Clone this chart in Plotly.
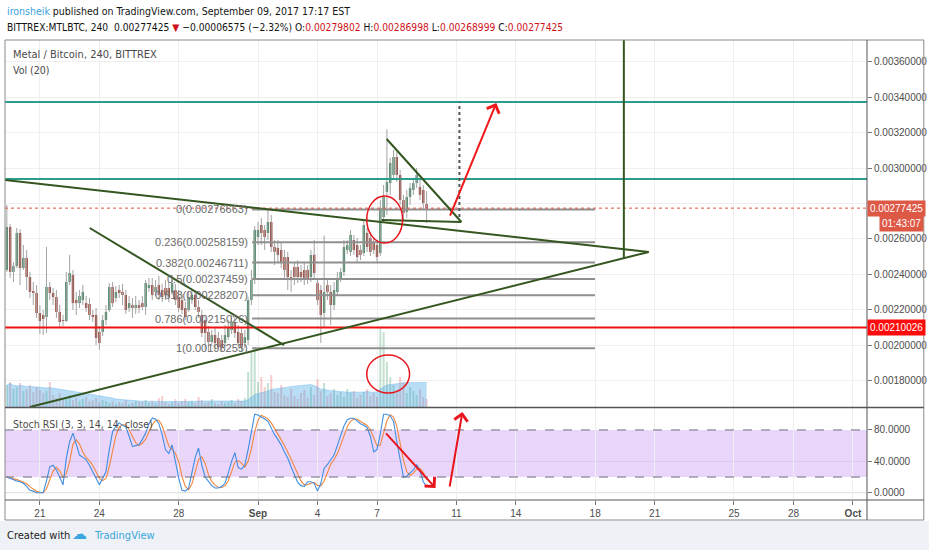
import plotly.graph_objects as go
import pandas as pd

# ---------------- data ----------------
candle_start = "2017-08-19 08:00"   # 4-hour candles
n_candles = 128

# prices in micro-BTC (1e-6 BTC)
open_u = [2425, 2668, 2414, 2447, 2634, 2436, 2493, 2385, 2301, 2295,
          2182, 2171, 2159, 2329, 2295, 2272, 2188, 2142, 2137, 2357,
          2397, 2255, 2238, 2255, 2238, 2233, 2171, 2171, 2075, 2075,
          2142, 2199, 2329, 2267, 2312, 2301, 2284, 2210, 2227, 2210,
          2227, 2238, 2216, 2323, 2340, 2301, 2340, 2312, 2323, 2323,
          2301, 2312, 2272, 2255, 2210, 2199, 2255, 2284, 2216, 2171,
          2142, 2075, 2018, 2058, 2041, 2029, 2012, 2046, 2086, 2125,
          2075, 2069, 2012, 2029, 2255, 2368, 2611, 2679, 2651, 2634,
          2696, 2555, 2549, 2538, 2498, 2498, 2385, 2442, 2442, 2414,
          2425, 2425, 2385, 2510, 2351, 2312, 2182, 2340, 2301, 2227,
          2301, 2380, 2414, 2538, 2527, 2594, 2566, 2538, 2521, 2634,
          2606, 2577, 2566, 2521, 2724, 2866, 2916, 2962, 3063, 2962,
          2820, 2753, 2837, 2877, 2916, 2894, 2877, 2798.02]
high_u = [2792, 2685, 2470, 2662, 2656, 2566, 2538, 2414, 2357, 2340,
          2227, 2199, 2555, 2357, 2323, 2312, 2227, 2171, 2414, 2510,
          2425, 2301, 2312, 2340, 2278, 2267, 2199, 2210, 2108, 2171,
          2227, 2351, 2357, 2334, 2340, 2346, 2312, 2278, 2267, 2278,
          2255, 2278, 2368, 2380, 2380, 2368, 2391, 2346, 2368, 2357,
          2397, 2346, 2312, 2289, 2244, 2301, 2312, 2312, 2255, 2199,
          2171, 2108, 2086, 2097, 2075, 2058, 2114, 2142, 2171, 2159,
          2114, 2097, 2086, 2272, 2425, 2673, 2696, 2719, 2679, 2767,
          2736, 2594, 2594, 2583, 2538, 2527, 2425, 2470, 2481, 2453,
          2470, 2453, 2538, 2594, 2380, 2340, 2620, 2368, 2340, 2357,
          2414, 2436, 2594, 2594, 2651, 2623, 2606, 2566, 2707, 2662,
          2640, 2606, 2594, 2820, 2905, 3220, 3058, 3103, 3091, 2990,
          2849, 2877, 2916, 2945, 3001, 2933, 2905, 2869.98]
low_u = [2414, 2380, 2357, 2436, 2340, 2425, 2312, 2267, 2227, 2154,
         2063, 2058, 2069, 2255, 2227, 2154, 2097, 2108, 2131, 2340,
         2199, 2171, 2210, 2227, 2188, 2142, 2131, 2001, 1973, 2052,
         2114, 2188, 2216, 2244, 2267, 2227, 2176, 2188, 2154, 2176,
         2182, 2199, 2171, 2301, 2255, 2278, 2255, 2244, 2255, 2244,
         2284, 2227, 2188, 2176, 2142, 2188, 2233, 2199, 2154, 2046,
         1973, 1962, 1995, 1973, 1983, 1962, 1984, 2029, 2063, 2041,
         1995, 1962, 1984, 2001, 2227, 2346, 2566, 2566, 2538, 2594,
         2527, 2453, 2470, 2436, 2380, 2312, 2301, 2340, 2351, 2357,
         2340, 2346, 2357, 2368, 2227, 2012, 2103, 2255, 2114, 2199,
         2278, 2357, 2391, 2515, 2504, 2510, 2470, 2481, 2504, 2527,
         2504, 2515, 2470, 2504, 2696, 2736, 2849, 2933, 2922, 2792,
         2707, 2719, 2792, 2849, 2888, 2820, 2764, 2689.99]
close_u = [2668, 2414, 2447, 2634, 2436, 2493, 2385, 2301, 2295, 2182,
           2137, 2148, 2329, 2295, 2272, 2188, 2131, 2137, 2357, 2408,
           2238, 2238, 2278, 2301, 2210, 2171, 2159, 2041, 2012, 2142,
           2188, 2329, 2238, 2301, 2295, 2284, 2199, 2238, 2210, 2227,
           2210, 2216, 2351, 2340, 2284, 2329, 2284, 2272, 2284, 2272,
           2351, 2255, 2210, 2199, 2159, 2272, 2284, 2216, 2188, 2069,
           2069, 2018, 2058, 2012, 1990, 1984, 2058, 2103, 2131, 2069,
           2012, 1990, 2046, 2255, 2368, 2651, 2651, 2634, 2611, 2696,
           2555, 2527, 2510, 2464, 2425, 2385, 2368, 2385, 2385, 2385,
           2380, 2380, 2510, 2408, 2255, 2171, 2301, 2301, 2227, 2312,
           2380, 2414, 2555, 2566, 2623, 2538, 2498, 2510, 2679, 2555,
           2527, 2538, 2498, 2775, 2837, 2922, 3029, 3063, 2962, 2820,
           2747, 2837, 2888, 2916, 2962, 2849, 2803, 2774.25]

# volume (thousand MTL)
volume_k = [22, 25, 18, 20, 24, 16, 18, 22, 15, 20, 17, 14, 16,
            25,
            12, 9, 14, 8, 10, 12, 7, 9, 6, 8, 10, 6, 7, 9,
            5, 7, 6, 4, 6, 3, 5, 4, 7, 3, 4, 6, 5,
            5, 7, 4, 6, 4, 9, 11, 5, 3, 5, 8, 4, 6, 8, 5, 6, 4, 10, 7, 4,
            5, 8, 4, 3, 6, 4, 5, 7, 4, 8, 6, 9,
            35, 55, 60, 25, 30, 20, 24, 32, 15, 14, 22, 12,
            10, 18, 11, 8, 14, 17, 9, 20, 12, 28, 16, 24, 11, 14, 18, 12,
            15, 10, 18, 14, 16, 9, 12, 15, 18, 11, 14, 10,
            80, 75, 45, 30, 22, 17, 30, 24, 14, 20, 16, 12, 18, 10, 8]

# Stoch RSI %K
stoch_k = [20, 18, 17, 15, 14, 12, 8, 3, 2, 0,
           0, 0, 15, 33, 35, 29, 20, 10, 44, 65,
           76, 62, 48, 45, 42, 35, 27, 18, 10, 18,
           27, 55, 78, 85, 89, 86, 84, 72, 59, 60,
           61, 68, 76, 88, 95, 94, 88, 74, 55, 50,
           61, 40, 19, 3, 2, 6, 25, 45, 57, 35,
           20, 14, 9, 6, 6, 8, 12, 25, 40, 51,
           32, 30, 35, 55, 78, 100, 99, 97, 94, 91,
           82, 74, 68, 61, 52, 44, 33, 23, 13, 9,
           8, 14, 14, 12, 2, 12, 31, 36, 42, 48,
           60, 74, 85, 93, 95, 95, 91, 88, 86, 83,
           72, 52, 55, 75, 100, 100, 98, 91, 65, 40,
           20, 21, 25, 29, 36, 28, 14, 8]

# axis ticks
price_ticks = [0.0018, 0.0020, 0.0022, 0.0024, 0.0026, 0.0028, 0.0030, 0.0032, 0.0034, 0.0036]
price_tick_text = ["0.00180000", "0.00200000", "0.00220000", "0.00240000", "0.00260000", "",
                   "0.00300000", "0.00320000", "0.00340000", "0.00360000"]
stoch_ticks = [0, 40, 80]
date_tick_vals = ["2017-08-21", "2017-08-24", "2017-08-28", "2017-09-01", "2017-09-04", "2017-09-07",
                  "2017-09-11", "2017-09-14", "2017-09-18", "2017-09-21", "2017-09-25", "2017-09-28",
                  "2017-10-01"]
date_tick_text = ["21", "24", "28", "<b>Sep</b>", "4", "7", "11", "14", "18", "21", "25", "28", "<b>Oct</b>"]

# levels / drawings
last_price = 0.00277425
support_price = 0.00210026
teal_levels = [0.003374, 0.002939]
fib_ratios = [0, 0.236, 0.382, 0.5, 0.618, 0.786, 1]
fib_prices = [0.00276663, 0.00258159, 0.00246711, 0.00237459, 0.00228207, 0.00215026, 0.00198255]
fib_start, fib_end = "2017-08-31 16:50", "2017-09-17 23:45"
trend_lines = [
    (("2017-08-19 05:47", 0.002933), ("2017-09-20 16:54", 0.002527)),
    (("2017-08-20 11:56", 0.001651), ("2017-09-20 16:54", 0.002527)),
    (("2017-08-23 12:18", 0.002662), ("2017-09-02 07:28", 0.002001)),
    (("2017-09-07 11:41", 0.003165), ("2017-09-11 06:09", 0.002696)),
    (("2017-09-07 05:40", 0.002707), ("2017-09-11 06:09", 0.002696)),
]

# ---------------- derived ----------------
times = pd.date_range(candle_start, periods=n_candles, freq="4h")
opens = [v * 1e-6 for v in open_u]
highs = [v * 1e-6 for v in high_u]
lows = [v * 1e-6 for v in low_u]
closes = [v * 1e-6 for v in close_u]
vol_ma = pd.Series(volume_k).rolling(20, min_periods=1).mean()
stoch_d = pd.Series(stoch_k).rolling(3, min_periods=1).mean()

UP, DN = "#3c825c", "#963529"
GREEN_LINE = "#34561f"
FONT = "Liberation Sans, Arial, sans-serif"
COND = "DejaVu Sans Condensed, DejaVu Sans, sans-serif"
BAR_MS = 4 * 3600 * 1000


def px(x):  # pixel -> paper x
    return (x - 5) / 865.0


def py(y):  # pixel -> paper y
    return (500 - y) / 460.0


fig = go.Figure()

# volume
is_up = [c >= o for o, c in zip(opens, closes)]
vol_colors = ["rgba(83,170,120,0.35)" if u else "rgba(235,110,110,0.35)" for u in is_up]
fig.add_trace(go.Bar(x=times, y=volume_k, marker=dict(color=vol_colors, line=dict(width=0)),
                     width=BAR_MS * 0.6, yaxis="y3", xaxis="x", hoverinfo="skip"))
fig.add_trace(go.Scatter(x=times, y=vol_ma, mode="lines", line=dict(color="rgba(60,160,225,0.6)", width=0.5),
                         fill="tozeroy", fillcolor="rgba(70,165,230,0.38)", yaxis="y3", xaxis="x",
                         hoverinfo="skip"))

# wicks
wx, wy = [], []
for t, lo, hi in zip(times, lows, highs):
    wx += [t, t, None]
    wy += [lo, hi, None]
fig.add_trace(go.Scatter(x=wx, y=wy, mode="lines", line=dict(color="#a3a3a3", width=1),
                         xaxis="x", yaxis="y", hoverinfo="skip"))
# bodies
body_base = [min(o, c) for o, c in zip(opens, closes)]
body_len = [max(abs(c - o), 1.5e-6) for o, c in zip(opens, closes)]
fig.add_trace(go.Bar(x=times, y=body_len, base=body_base, width=BAR_MS * 0.72,
                     marker=dict(color=[UP if u else DN for u in is_up], line=dict(width=0)),
                     xaxis="x", yaxis="y", hoverinfo="skip"))

# stoch rsi
fig.add_trace(go.Scatter(x=times, y=stoch_d, mode="lines", line=dict(color="#f0883e", width=1.1),
                         xaxis="x", yaxis="y2", hoverinfo="skip"))
fig.add_trace(go.Scatter(x=times, y=stoch_k, mode="lines", line=dict(color="#3d8ee0", width=1.1),
                         xaxis="x", yaxis="y2", hoverinfo="skip"))

shapes = []
# stoch band
shapes.append(dict(type="rect", xref="paper", yref="y2", x0=0, x1=1, y0=20, y1=80,
                   fillcolor="#ead5fb", line=dict(width=0), layer="below"))
for lv in (20, 80):
    shapes.append(dict(type="line", xref="paper", yref="y2", x0=0, x1=1, y0=lv, y1=lv,
                       line=dict(color="#6e6e7a", width=1, dash="dash")))
shapes.append(dict(type="line", xref="paper", yref="y2", x0=0, x1=1, y0=0, y1=0,
                   line=dict(color="#dedede", width=1), layer="below"))
shapes.append(dict(type="line", xref="paper", yref="y2", x0=0, x1=1, y0=40, y1=40,
                   line=dict(color="#d9c6ea", width=1), layer="below"))

# fib lines
for p in fib_prices:
    shapes.append(dict(type="line", xref="x", yref="y", x0=fib_start, x1=fib_end, y0=p, y1=p,
                       line=dict(color="#8f8f8f", width=2)))
# horizontal levels
for p in teal_levels:
    shapes.append(dict(type="line", xref="paper", yref="y", x0=0, x1=1, y0=p, y1=p,
                       line=dict(color="#2a9d8c", width=2)))
shapes.append(dict(type="line", xref="paper", yref="y", x0=0, x1=1, y0=support_price, y1=support_price,
                   line=dict(color="#f01010", width=2)))
shapes.append(dict(type="line", xref="paper", yref="y", x0=0, x1=1, y0=last_price, y1=last_price,
                   line=dict(color="#e0533f", width=1, dash="dot")))
# trend lines
for (a, b) in trend_lines:
    shapes.append(dict(type="line", xref="x", yref="y", x0=a[0], y0=a[1], x1=b[0], y1=b[1],
                       line=dict(color=GREEN_LINE, width=2)))
# vertical target line
shapes.append(dict(type="line", xref="x", yref="y", x0="2017-09-19 10:44", x1="2017-09-19 10:44",
                   y0=0.002493, y1=0.003724, line=dict(color=GREEN_LINE, width=2)))
# dotted vertical
shapes.append(dict(type="line", xref="x", yref="y", x0="2017-09-11 03:44", x1="2017-09-11 03:44",
                   y0=0.002724, y1=0.003374, line=dict(color="#555555", width=2, dash="dot")))
# circles
shapes.append(dict(type="circle", xref="x", yref="y", x0="2017-09-06 11:34", x1="2017-09-08 06:59",
                   y0=0.002577, y1=0.002843, line=dict(color="#e8141c", width=1.5)))
shapes.append(dict(type="circle", xref="x", yref="y", x0="2017-09-06 11:34", x1="2017-09-08 15:26",
                   y0=0.00173, y1=0.001945, line=dict(color="#e8141c", width=1.5)))

# frame
shapes.append(dict(type="rect", xref="paper", yref="paper", x0=px(0), x1=px(932), y0=py(550), y1=py(521),
                   fillcolor="#eef1f5", line=dict(width=0), layer="below"))
shapes.append(dict(type="rect", xref="paper", yref="paper", x0=0, x1=px(927), y0=py(520), y1=1,
                   line=dict(color="#8a8a8a", width=1)))
shapes.append(dict(type="line", xref="paper", yref="paper", x0=0, x1=px(927), y0=py(407.5), y1=py(407.5),
                   line=dict(color="#555555", width=1.5)))
shapes.append(dict(type="line", xref="paper", yref="paper", x0=0, x1=px(927), y0=0, y1=0,
                   line=dict(color="#555555", width=1)))
shapes.append(dict(type="line", xref="paper", yref="paper", x0=1, x1=1, y0=py(520), y1=1,
                   line=dict(color="#555555", width=1)))

ann = []
# header
red = "#d0101a"
ann.append(dict(xref="paper", yref="paper", x=px(5), y=py(11), xanchor="left", yanchor="middle",
                showarrow=False, font=dict(family=COND, size=10.5, color="#151515"),
                text="<span style='color:#3aa4dc'>ironsheik</span> published on TradingView.com, September 09, 2017 17:17 EST"))
ann.append(dict(xref="paper", yref="paper", x=px(5), y=py(27), xanchor="left", yanchor="middle",
                showarrow=False, font=dict(family=COND, size=10.2, color="#111111"),
                text=("BITTREX:MTLBTC, 240  0.00277425 <span style='color:%s'>▼</span> −0.00006575 (−2.32%%) "
                      "O:<span style='color:%s'>0.00279802</span> H:<span style='color:%s'>0.00286998</span> "
                      "L:<span style='color:%s'>0.00268999</span> C:<span style='color:%s'>0.00277425</span>")
                % (red, red, red, red, red)))
# pane titles
ann.append(dict(xref="paper", yref="paper", x=px(11), y=py(54), xanchor="left", yanchor="middle",
                showarrow=False, text="Metal / Bitcoin, 240, BITTREX",
                font=dict(family=COND, size=11, color="#4a4a4a")))
ann.append(dict(xref="paper", yref="paper", x=px(11), y=py(70), xanchor="left", yanchor="middle",
                showarrow=False, text="Vol (20)", font=dict(family=COND, size=10.5, color="#4a4a4a")))
ann.append(dict(xref="paper", yref="paper", x=px(11), y=py(424), xanchor="left", yanchor="middle",
                showarrow=False, text="Stoch RSI (3, 3, 14, 14, close)",
                font=dict(family=COND, size=10.5, color="#4a4a4a")))
# fib labels
for r, p in zip(fib_ratios, fib_prices):
    ann.append(dict(xref="paper", yref="y", x=px(251), y=p, xanchor="right", yanchor="middle",
                    showarrow=False, text="%g(%.8f)" % (r, p),
                    font=dict(family=FONT, size=11, color="#6a6a6a")))
# price labels
ann.append(dict(xref="paper", yref="y", x=1, y=last_price, xanchor="left", yanchor="middle",
                showarrow=False, text="0.00277425", bgcolor="#de5846", borderpad=2,
                font=dict(family=FONT, size=10, color="white")))
ann.append(dict(xref="paper", yref="y", x=px(927), y=last_price, yshift=-15, xanchor="right",
                yanchor="middle", showarrow=False, text="01:43:07", bgcolor="#de5846", borderpad=2,
                font=dict(family=FONT, size=10, color="white")))
ann.append(dict(xref="paper", yref="y", x=1, y=support_price, xanchor="left", yanchor="middle",
                showarrow=False, text="0.00210026", bgcolor="#ff0a0a", borderpad=2,
                font=dict(family=FONT, size=10, color="white")))
# arrows
ann.append(dict(xref="x", yref="y", axref="x", ayref="y", x="2017-09-13 00:22", y=0.003368,
                ax="2017-09-10 15:40", ay=0.002724, showarrow=True, arrowhead=4, arrowsize=1.3,
                arrowwidth=2, arrowcolor="#f01818", text=""))
ann.append(dict(xref="x", yref="y2", axref="x", ayref="y2", x="2017-09-09 22:48", y=6,
                ax="2017-09-07 09:17", ay=77.5, showarrow=True, arrowhead=4, arrowsize=1.3,
                arrowwidth=2, arrowcolor="#e8141c", text=""))
ann.append(dict(xref="x", yref="y2", axref="x", ayref="y2", x="2017-09-11 07:22", y=103,
                ax="2017-09-10 15:40", ay=6, showarrow=True, arrowhead=4, arrowsize=1.3,
                arrowwidth=2, arrowcolor="#e8141c", text=""))
# footer
ann.append(dict(xref="paper", yref="paper", x=px(5), y=py(535), xanchor="left", yanchor="middle",
                showarrow=False, text="Created with", font=dict(family=COND, size=11, color="#222222")))
ann.append(dict(xref="paper", yref="paper", x=px(70), y=py(534), xanchor="left", yanchor="middle",
                showarrow=False, text="☁", font=dict(family="DejaVu Sans", size=15, color="#3ba6de")))
ann.append(dict(xref="paper", yref="paper", x=px(92), y=py(535), xanchor="left", yanchor="middle",
                showarrow=False, text="TradingView", font=dict(family=COND, size=11, color="#3ba6de")))

fig.update_layout(
    width=932, height=550,
    margin=dict(l=5, r=62, t=40, b=50),
    paper_bgcolor="white", plot_bgcolor="white",
    showlegend=False, barmode="overlay", hovermode=False,
    shapes=shapes, annotations=ann,
    xaxis=dict(type="date", domain=[0, 1], anchor="y2",
               range=["2017-08-19 05:47", "2017-10-01 17:01"],
               tickvals=date_tick_vals, ticktext=date_tick_text,
               ticks="outside", ticklen=4, tickcolor="#777777",
               tickfont=dict(family=FONT, size=10, color="#4d4d4d"),
               showgrid=True, gridcolor="#efefef", zeroline=False, showline=False),
    yaxis=dict(domain=[py(407), 1], anchor="x", side="right",
               range=[0.001651, 0.003724], tickvals=price_ticks, ticktext=price_tick_text,
               ticks="outside", ticklen=4, tickcolor="#777777",
               tickfont=dict(family=FONT, size=10, color="#4d4d4d"),
               showgrid=True, gridcolor="#efefef", zeroline=False, showline=False),
    yaxis2=dict(domain=[0, py(408)], anchor="x", side="right",
                range=[-9.3, 108], tickvals=stoch_ticks, tickformat=".4f",
                ticks="outside", ticklen=4, tickcolor="#777777",
                tickfont=dict(family=FONT, size=10, color="#4d4d4d"),
                showgrid=False, zeroline=False, showline=False),
    yaxis3=dict(overlaying="y", range=[0, 367], visible=False, showgrid=False),
)

fig.write_html("out.html", config={"displayModeBar": False},
               post_script="document.body.style.margin='0px';")
